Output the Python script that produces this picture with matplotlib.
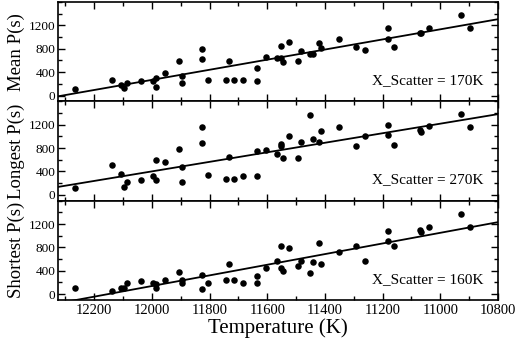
#!/usr/bin/env python
'''
Period against temperature for three stacked panels (mean, longest, shortest),
each with a least squares line.
'''

import numpy as np
import matplotlib
matplotlib.use('Agg')
from matplotlib.pyplot import figure, rcParams
from matplotlib.ticker import MultipleLocator

# Temperatures (K), shared by all three panels
temperature = [12267, 12137, 12107, 12096, 12086, 12036, 11996, 11986, 11985, 11955,
               11906, 11895, 11895, 11825, 11825, 11804, 11744, 11733, 11714, 11684,
               11634, 11634, 11604, 11565, 11554, 11554, 11544, 11523, 11492, 11482,
               11453, 11442, 11421, 11412, 11351, 11291, 11260, 11181, 11181, 11160,
               11070, 11068, 11040, 10929, 10898]

mean_p = [113, 270, 180, 123, 214, 253, 242, 299, 152, 383,
          592, 326, 208, 800, 631, 265, 265, 586, 259, 265,
          479, 248, 665, 642, 850, 637, 575, 924, 586, 755,
          715, 715, 896, 811, 968, 833, 777, 1154, 963, 833,
          1076, 1070, 1154, 1380, 1149]

longest_p = [118, 519, 355, 141, 220, 259, 316, 591, 259, 563,
             782, 473, 214, 1161, 890, 338, 270, 654, 265, 321,
             749, 316, 766, 698, 867, 833, 631, 1002, 631, 913,
             1374, 952, 907, 1099, 1155, 840, 1002, 1200, 1031, 845,
             1104, 1075, 1171, 1391, 1161]

shortest_p = [97, 57, 97, 97, 199, 233, 199, 171, 102, 245,
              387, 250, 193, 324, 91, 193, 245, 518, 239, 188,
              307, 199, 455, 575, 831, 455, 398, 797, 490, 563,
              370, 558, 882, 518, 729, 819, 563, 1075, 916, 825,
              1090, 1060, 1149, 1377, 1144]

panel_labels = ['Mean P(s)', 'Longest P(s)', 'Shortest P(s)']
scatter_labels = ['X_Scatter = 170K', 'X_Scatter = 270K', 'X_Scatter = 160K']

rcParams['font.family'] = 'serif'
rcParams['font.serif'] = ['Liberation Serif', 'DejaVu Serif']

T_lo, T_hi = 12325, 10800

fig = figure(figsize=(5.19, 3.46), dpi=100)
fig.subplots_adjust(left=0.112, right=0.9595, bottom=0.133, top=0.994, hspace=0)

T = np.array(temperature, dtype=float)
series = [mean_p, longest_p, shortest_p]
axes = []
for k, values in enumerate(series):
    ax = fig.add_subplot(3, 1, k + 1, sharex=axes[0] if axes else None)
    axes.append(ax)
    P = np.array(values, dtype=float)
    ax.scatter(T, P, s=22, c='k', linewidths=0, zorder=3)
    slope, intercept = np.polyfit(T, P, 1)
    xs = np.array([T_lo, T_hi])
    ax.plot(xs, slope * xs + intercept, color='k', lw=1.3)
    ax.set_xlim(T_lo, T_hi)
    ax.set_ylim(-100, 1600)
    ax.yaxis.set_major_locator(MultipleLocator(400))
    ax.yaxis.set_minor_locator(MultipleLocator(200))
    ax.xaxis.set_major_locator(MultipleLocator(200))
    ax.xaxis.set_minor_locator(MultipleLocator(100))
    ax.set_yticks([0, 400, 800, 1200])
    ax.tick_params(which='both', direction='in', top=True, right=True, width=1)
    ax.tick_params(which='major', length=5)
    ax.tick_params(which='minor', length=3)
    ax.tick_params(axis='y', labelsize=9.5, pad=2)
    ax.tick_params(axis='x', labelsize=10.5, pad=3)
    for side in ax.spines.values():
        side.set_linewidth(1.2)
    ax.set_ylabel(panel_labels[k], fontsize=13.5, labelpad=3)
    ax.text(0.966, 0.21, scatter_labels[k], transform=ax.transAxes,
            ha='right', va='center', fontsize=11)
    if k < 2:
        ax.tick_params(axis='x', labelbottom=False)

axes[-1].set_xlabel('Temperature (K)', fontsize=15, labelpad=1)

fig.savefig('out.png', dpi=100)
